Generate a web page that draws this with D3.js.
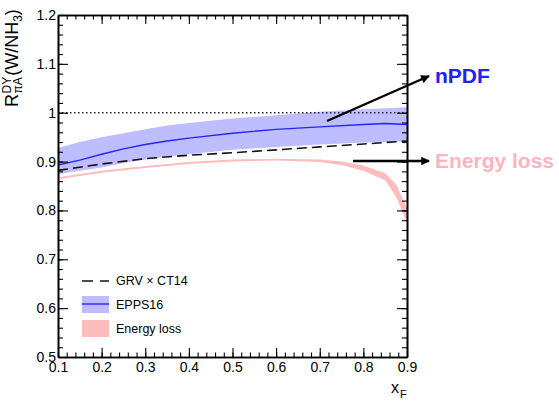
<!DOCTYPE html>
<html>
<head>
<meta charset="utf-8">
<script src="https://cdn.jsdelivr.net/npm/d3@7"></script>
<style>
	body { margin: 0; background: #fff; }
	svg { font-family: "Liberation Sans", Arial, Helvetica, sans-serif; }
</style>
</head>
<body>
<div id="vis"></div>
<script>

// EPPS16 band (nPDF)
var eppsX     = [0.1, 0.15, 0.2, 0.25, 0.3, 0.35, 0.4, 0.5, 0.6, 0.7, 0.8, 0.85, 0.9];
var eppsMid   = [0.893, 0.903, 0.915, 0.926, 0.935, 0.942, 0.948, 0.958, 0.966, 0.971, 0.976, 0.978, 0.976];
var eppsHigh  = [0.928, 0.940, 0.950, 0.958, 0.966, 0.974, 0.979, 0.988, 0.995, 1.002, 1.007, 1.009, 1.011];
var eppsLow   = [0.874, 0.881, 0.888, 0.897, 0.904, 0.910, 0.915, 0.924, 0.930, 0.935, 0.939, 0.940, 0.941];

// GRV x CT14 (dashed)
var grvX      = [0.1, 0.2, 0.3, 0.4, 0.5, 0.6, 0.7, 0.8, 0.9];
var grvVal    = [0.882, 0.895, 0.906, 0.913, 0.918, 0.924, 0.930, 0.936, 0.942];

// Energy loss band
var elossX    = [0.1, 0.2, 0.3, 0.4, 0.5, 0.6, 0.7, 0.75, 0.8, 0.85, 0.875, 0.9];
var elossLow  = [0.864, 0.877, 0.887, 0.895, 0.900, 0.902, 0.899, 0.893, 0.881, 0.862, 0.828, 0.776];
var elossHigh = [0.868, 0.881, 0.891, 0.899, 0.904, 0.906, 0.904, 0.900, 0.892, 0.876, 0.853, 0.805];

var xTicks = [0.1, 0.2, 0.3, 0.4, 0.5, 0.6, 0.7, 0.8, 0.9];
var yTicks = [0.5, 0.6, 0.7, 0.8, 0.9, 1, 1.1, 1.2];
var legendLabels = ["GRV \u00d7 CT14", "EPPS16", "Energy loss"];

var W = 559, H = 401;
var blue = "#2424ff", blueFill = "#bdbdff";
var pinkFill = "#ffbcbc", pinkText = "#ffb3bf";

var svg = d3.select("#vis").append("svg")
	.attr("width", W)
	.attr("height", H);

var x = d3.scaleLinear().domain([0.1, 0.9]).range([58, 407]);
var y = d3.scaleLinear().domain([0.5, 1.2]).range([357, 15]);

function rows (xs, a, b) {
	return xs.map(function (v, i) { return {x: v, a: a[i], b: b ? b[i] : null}; });
}

var area = d3.area()
	.x(function (d) { return x(d.x); })
	.y0(function (d) { return y(d.a); })
	.y1(function (d) { return y(d.b); });

var line = d3.line()
	.x(function (d) { return x(d.x); })
	.y(function (d) { return y(d.a); });

// bands
svg.append("path")
	.attr("d", area(rows(eppsX, eppsLow, eppsHigh)))
	.attr("fill", blueFill);

svg.append("path")
	.attr("d", area(rows(elossX, elossLow, elossHigh)))
	.attr("fill", pinkFill);

// reference line at 1
svg.append("line")
	.attr("x1", x(0.1)).attr("x2", x(0.9))
	.attr("y1", y(1)).attr("y2", y(1))
	.attr("stroke", "#222")
	.attr("stroke-width", 1.4)
	.attr("stroke-dasharray", "1.5,2.5");

svg.append("path")
	.attr("d", line(rows(grvX, grvVal)))
	.attr("fill", "none")
	.attr("stroke", "#111")
	.attr("stroke-width", 1.6)
	.attr("stroke-dasharray", "10,5");

svg.append("path")
	.attr("d", line(rows(eppsX, eppsMid)))
	.attr("fill", "none")
	.attr("stroke", blue)
	.attr("stroke-width", 1.4);

// axes, ticks inward
function minor (lo, hi, step) {
	var out = [];
	for (var v = lo; v <= hi + 1e-9; v += step) { out.push(+v.toFixed(3)); }
	return out;
}
var xMinor = minor(0.1, 0.9, 0.02);
var yMinor = minor(0.5, 1.2, 0.02);

var fmtX = d3.format(".1f");
var fmtY = function (d) { return d == 1 ? "1" : d3.format(".1f")(d); };

svg.append("g").attr("transform", "translate(0," + y(0.5) + ")")
	.call(d3.axisBottom(x).tickValues(xMinor).tickSize(-4.5).tickFormat("").tickSizeOuter(0));
svg.append("g").attr("transform", "translate(0," + y(0.5) + ")")
	.call(d3.axisBottom(x).tickValues(xTicks).tickSize(-9).tickPadding(5).tickFormat(fmtX).tickSizeOuter(0));

svg.append("g").attr("transform", "translate(0," + y(1.2) + ")")
	.call(d3.axisTop(x).tickValues(xMinor).tickSize(-4.5).tickFormat("").tickSizeOuter(0));
svg.append("g").attr("transform", "translate(0," + y(1.2) + ")")
	.call(d3.axisTop(x).tickValues(xTicks).tickSize(-9).tickFormat("").tickSizeOuter(0));

svg.append("g").attr("transform", "translate(" + x(0.1) + ",0)")
	.call(d3.axisLeft(y).tickValues(yMinor).tickSize(-5).tickFormat("").tickSizeOuter(0));
svg.append("g").attr("transform", "translate(" + x(0.1) + ",0)")
	.call(d3.axisLeft(y).tickValues(yTicks).tickSize(-10).tickPadding(2).tickFormat(fmtY).tickSizeOuter(0));

svg.append("g").attr("transform", "translate(" + x(0.9) + ",0)")
	.call(d3.axisRight(y).tickValues(yMinor).tickSize(-5).tickFormat("").tickSizeOuter(0));
svg.append("g").attr("transform", "translate(" + x(0.9) + ",0)")
	.call(d3.axisRight(y).tickValues(yTicks).tickSize(-10).tickFormat("").tickSizeOuter(0));

svg.selectAll(".domain").attr("stroke", "#000").attr("stroke-width", 1.6);
svg.selectAll(".tick line").attr("stroke", "#000").attr("stroke-width", 1.1);
svg.selectAll(".tick text")
	.attr("font-family", "'Liberation Sans', Arial, sans-serif")
	.attr("font-size", 14)
	.attr("fill", "#000");

// x title
svg.append("text")
	.attr("x", 391).attr("y", 393)
	.attr("font-size", 16)
	.text("x");
svg.append("text")
	.attr("x", 400).attr("y", 398)
	.attr("font-size", 11)
	.text("F");

// y title, rotated, with stacked super/subscript
var yt = svg.append("g").attr("transform", "translate(18,107) rotate(-90)");
var fs = 18, fsS = 12;
function piece (txt, px, py, size) {
	var t = yt.append("text").attr("x", px).attr("y", py).attr("font-size", size).text(txt);
	return t.node().getComputedTextLength();
}
var cx = 0;
cx += piece("R", cx, 0, fs) + 0.5;
var w1 = piece("DY", cx, -7.5, fsS);
var w2 = piece("\u03c0A", cx, 4, fsS);
cx += Math.max(w1, w2) + 1;
cx += piece("(W/NH", cx, 0, fs);
cx += piece("3", cx, 4, fsS);
piece(")", cx, 0, fs);

// legend
var lg = svg.append("g");
lg.append("line")
	.attr("x1", 82).attr("x2", 109).attr("y1", 281).attr("y2", 281)
	.attr("stroke", "#111").attr("stroke-width", 1.6)
	.attr("stroke-dasharray", "11,7");
lg.append("rect")
	.attr("x", 82).attr("y", 296).attr("width", 27).attr("height", 17)
	.attr("fill", blueFill);
lg.append("line")
	.attr("x1", 82).attr("x2", 109).attr("y1", 304).attr("y2", 304)
	.attr("stroke", blue).attr("stroke-width", 1.4);
lg.append("rect")
	.attr("x", 82).attr("y", 320).attr("width", 27).attr("height", 17)
	.attr("fill", pinkFill);
lg.selectAll("text.lab")
	.data(legendLabels)
	.enter()
	.append("text")
	.attr("class", "lab")
	.attr("x", 116)
	.attr("y", function (d, i) { return 285 + i * 24; })
	.attr("font-size", 12.5)
	.text(function (d) { return d; });

// annotation arrows
var defs = svg.append("defs");
defs.append("marker")
	.attr("id", "ah")
	.attr("viewBox", "0 0 10 10")
	.attr("refX", 9).attr("refY", 5)
	.attr("markerWidth", 4).attr("markerHeight", 3.6)
	.attr("markerUnits", "strokeWidth")
	.attr("orient", "auto")
	.append("path")
	.attr("d", "M0,0 L10,5 L0,10 z")
	.attr("fill", "#000");

svg.append("line")
	.attr("x1", 327).attr("y1", 121).attr("x2", 429).attr("y2", 76)
	.attr("stroke", "#000").attr("stroke-width", 2.4)
	.attr("marker-end", "url(#ah)");
svg.append("line")
	.attr("x1", 353).attr("y1", 161).attr("x2", 429).attr("y2", 161)
	.attr("stroke", "#000").attr("stroke-width", 2.4)
	.attr("marker-end", "url(#ah)");

svg.append("text")
	.attr("x", 435).attr("y", 83)
	.attr("font-size", 21).attr("font-weight", "bold")
	.attr("fill", "#2020f0")
	.text("nPDF");
svg.append("text")
	.attr("x", 435).attr("y", 168)
	.attr("font-size", 21).attr("font-weight", "bold")
	.attr("fill", pinkText)
	.text("Energy loss");

</script>
</body>
</html>
